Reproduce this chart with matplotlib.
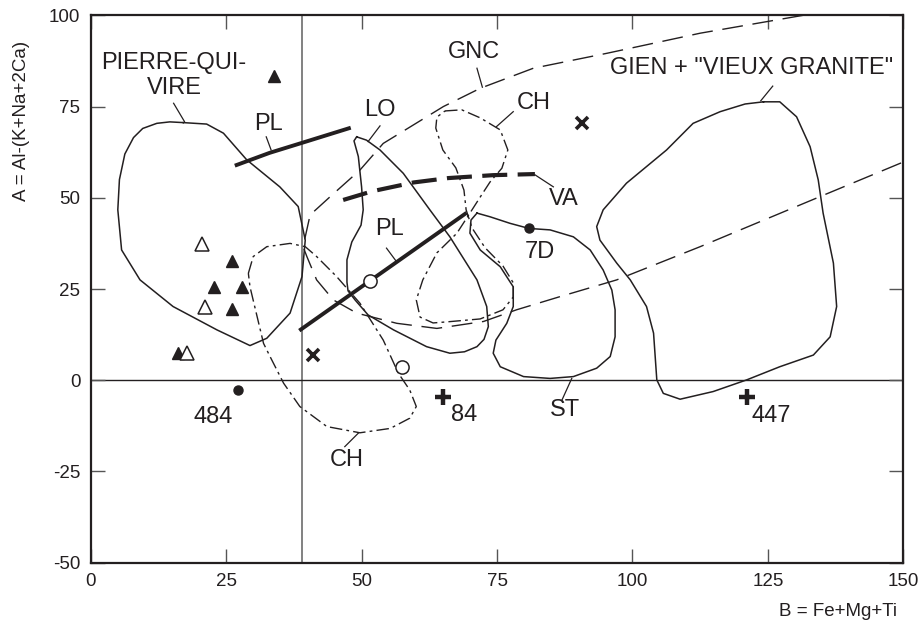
import matplotlib
matplotlib.use("Agg")
import matplotlib.pyplot as plt

plt.rcParams['font.family'] = ['Liberation Sans', 'DejaVu Sans']
plt.rcParams['axes.unicode_minus'] = False

# ---- outlines (B, A) ----
pqv_b = [17.1, 21.4, 24.5, 28.8, 34.9, 38.3, 39.6, 39.0, 36.8, 32.5, 29.4, 23.3, 15.2, 9.1, 5.7, 5.0, 5.3, 6.3, 7.9, 9.6, 12.2, 14.6]
pqv_a = [70.6, 70.2, 67.7, 60.4, 53.0, 47.6, 38.4, 28.4, 18.4, 11.5, 9.5, 13.8, 20.2, 27.5, 35.7, 46.7, 55.0, 62.0, 66.5, 69.0, 70.4, 70.8]

lo_b = [49.1, 50.9, 53.4, 57.7, 62.6, 66.3, 71.3, 73.1, 73.4, 72.6, 71.3, 69.0, 66.3, 62.0, 55.9, 51.2, 48.8, 47.5, 47.3, 47.3, 48.2, 49.9, 50.3, 50.0, 49.4, 48.6]
lo_a = [66.7, 65.8, 63.1, 56.7, 46.7, 39.3, 27.5, 20.2, 14.7, 11.2, 9.2, 7.8, 7.4, 9.2, 13.8, 17.9, 22.0, 24.5, 26.9, 33.0, 37.9, 42.5, 46.7, 53.0, 61.3, 65.6]

chu_b = [65.4, 68.5, 71.9, 75.6, 77.0, 75.9, 73.7, 71.9, 70.0, 67.6, 63.9, 61.3, 60.1, 60.8, 63.2, 65.8, 71.9, 76.1, 78.0,
         78.0, 76.1, 72.8, 70.4, 69.3, 68.9, 67.4, 65.0, 63.7, 63.9]
chu_a = [73.8, 74.1, 71.9, 68.6, 63.1, 58.1, 54.3, 50.2, 45.8, 40.3, 34.9, 27.5, 22.0, 17.3, 15.7, 16.0, 16.8, 19.3, 22.8,
         26.7, 31.3, 36.3, 41.7, 46.7, 52.1, 58.2, 63.1, 69.1, 72.1]

chl_b = [29.1, 30.0, 32.5, 36.8, 39.6, 41.7, 45.4, 49.7, 54.0, 56.8, 58.9, 60.1, 58.9, 55.3, 49.7, 43.6, 38.6, 35.6, 33.1, 31.9, 29.4]
chl_a = [29.3, 33.9, 36.6, 37.5, 36.6, 33.9, 28.4, 21.1, 11.0, 1.9, -2.7, -7.2, -10.4, -13.2, -14.4, -12.7, -7.2, -0.8, 6.5, 10.1, 25.6]

st_b = [71.3, 73.7, 77.4, 80.9, 84.8, 89.1, 92.2, 94.6, 96.2, 96.8, 96.8, 95.9, 93.4, 89.1, 84.8, 79.9, 75.6, 74.3, 74.8,
        76.8, 78.0, 78.0, 75.6, 71.9, 70.0, 70.2]
st_a = [45.8, 44.8, 43.0, 41.6, 41.2, 39.3, 35.7, 30.2, 24.7, 19.3, 11.9, 6.5, 3.3, 1.0, 0.5, 1.0, 3.7, 7.4, 11.0,
        15.6, 20.2, 25.6, 31.1, 35.7, 40.3, 43.9]

gien_b = [124.2, 127.2, 130.3, 132.8, 134.3, 135.2, 137.1, 137.7, 136.5, 133.4, 127.2, 121.1, 114.9, 108.8, 105.7, 104.5,
          103.9, 102.6, 99.6, 97.1, 94.0, 93.4, 94.6, 98.9, 106.3, 111.2, 116.2, 120.8]
gien_a = [76.3, 76.3, 72.2, 64.0, 54.9, 45.8, 32.1, 20.2, 11.9, 6.9, 3.7, 0.1, -3.1, -5.2, -3.6, 0.1,
          12.9, 20.2, 27.5, 32.1, 38.4, 42.1, 46.7, 54.0, 63.1, 70.4, 73.6, 75.7]

# GNC field boundary (open at the right)
gnc_b = [131.5, 112.5, 95.3, 81.7, 71.9, 65.1, 54.0, 49.7, 44.2, 40.5, 39.2, 39.9, 41.7, 44.8, 49.1, 56.5, 63.9, 72.5,
         78.6, 86.6, 97.1, 112.5, 134.6, 150.0]
gnc_a = [100.0, 95.1, 89.6, 85.5, 80.0, 75.0, 64.9, 57.6, 50.3, 45.3, 36.6, 33.9, 27.5, 22.0, 18.4, 15.6, 14.2, 16.1,
         19.3, 22.9, 27.5, 36.6, 50.3, 59.8]

# trend lines
pl1_b = [26.6, 33.0, 39.1, 48.0]
pl1_a = [58.8, 62.3, 65.1, 69.2]
pl2_b = [38.5, 69.4]
pl2_a = [13.6, 45.9]
va_b = [46.6, 52.0, 59.6, 66.0, 74.3, 82.0]
va_a = [49.4, 51.8, 54.2, 55.4, 56.2, 56.5]

# samples
tri_full_b = [33.8, 26.0, 22.8, 27.9, 26.0, 16.2]
tri_full_a = [83.4, 32.8, 25.6, 25.5, 19.5, 7.4]
tri_open_b = [20.5, 21.1, 17.8]
tri_open_a = [37.3, 20.2, 7.6]
circ_open_b = [51.6, 57.4]
circ_open_a = [27.1, 3.7]
cross_b = [41.0, 90.6]
cross_a = [6.9, 70.6]
plus_b = [65.0, 121.1]
plus_a = [-4.5, -4.7]
dot_b = [27.1, 80.9]
dot_a = [-2.7, 41.6]

labels = ["PIERRE-QUI-\nVIRE", "PL", "LO", "GNC", "CH", 'GIEN + "VIEUX GRANITE"', "VA", "PL", "7D",
          "484", "84", "ST", "447", "CH"]
label_b = [15.4, 32.8, 53.4, 70.8, 81.7, 121.9, 87.3, 55.1, 82.9, 22.6, 68.9, 87.6, 125.7, 47.3]
label_a = [83.5, 70.1, 74.1, 90.0, 75.9, 85.5, 49.7, 41.4, 35.2, -10.0, -9.5, -8.1, -9.7, -21.9]

# leader lines: (b0, a0, b1, a1)
leaders = [(15.3, 75.9, 17.3, 70.9), (32.4, 66.7, 33.3, 63.1), (53.4, 69.7, 51.2, 65.4),
           (71.3, 85.5, 72.3, 80.3), (78.0, 73.6, 74.9, 69.5), (125.9, 80.6, 123.7, 76.6),
           (82.0, 56.3, 85.4, 53.0), (54.6, 36.2, 56.3, 32.8), (88.8, 0.5, 87.0, -5.4),
           (49.4, -14.5, 46.9, -18.2)]

ink = '#231f20'

fig = plt.figure(figsize=(9.22, 6.23), dpi=100)
ax = fig.add_axes([0.0984, 0.0968, 0.8813, 0.8786])

ax.axvline(39.0, color='#777777', lw=1.3, zorder=1)
ax.axhline(0, color=ink, lw=1.0, zorder=1)

def closed(b, a):
    return b + b[:1], a + a[:1]

for b, a in [(pqv_b, pqv_a), (lo_b, lo_a), (st_b, st_a), (gien_b, gien_a)]:
    bb, aa = closed(b, a)
    ax.plot(bb, aa, color=ink, lw=1.1, solid_joinstyle='round')

for b, a in [(chu_b, chu_a), (chl_b, chl_a)]:
    bb, aa = closed(b, a)
    ax.plot(bb, aa, color=ink, lw=1.0, dashes=(9, 3, 2, 3))

ax.plot(gnc_b, gnc_a, color=ink, lw=1.0, dashes=(15, 7))

ax.plot(pl1_b, pl1_a, color=ink, lw=2.8, solid_capstyle='butt')
ax.plot(pl2_b, pl2_a, color=ink, lw=2.8, solid_capstyle='butt')
ax.plot(va_b, va_a, color=ink, lw=3.0, dashes=(6, 2.5))

ax.plot(tri_full_b, tri_full_a, '^', color=ink, ms=9, ls='none')
ax.plot(tri_open_b, tri_open_a, '^', mfc='white', mec=ink, mew=1.1, ms=10, ls='none')
ax.plot(circ_open_b, circ_open_a, 'o', mfc='white', mec=ink, mew=1.1, ms=9.5, ls='none', zorder=5)
ax.plot(cross_b, cross_a, 'x', color=ink, mew=2.6, ms=8, ls='none')
ax.plot(plus_b, plus_a, '+', color=ink, mew=3.2, ms=11, ls='none')
ax.plot(dot_b, dot_a, 'o', color=ink, ms=6.5, ls='none')

for b0, a0, b1, a1 in leaders:
    ax.plot([b0, b1], [a0, a1], color=ink, lw=0.9)

for t, b, a in zip(labels, label_b, label_a):
    ax.text(b, a, t, fontsize=17, color=ink, ha='center', va='center')

ax.set_xlim(0, 150)
ax.set_ylim(-50, 100)
ax.set_xticks([0, 25, 50, 75, 100, 125, 150])
ax.set_yticks([-50, -25, 0, 25, 50, 75, 100])
ax.tick_params(direction='in', length=10, width=1.0, color='#555555', labelsize=13.5,
               labelcolor=ink, top=True, right=True, pad=7.5)
for s in ax.spines.values():
    s.set_linewidth(1.6)
    s.set_color(ink)

fig.text(22 / 922, 1 - 121 / 623, 'A = Al-(K+Na+2Ca)', rotation=90, fontsize=13.5,
         color=ink, ha='center', va='center')
fig.text(897 / 922, 1 - 612 / 623, 'B = Fe+Mg+Ti', fontsize=13.5, color=ink, ha='right', va='center')

fig.savefig('out.png', dpi=100)
